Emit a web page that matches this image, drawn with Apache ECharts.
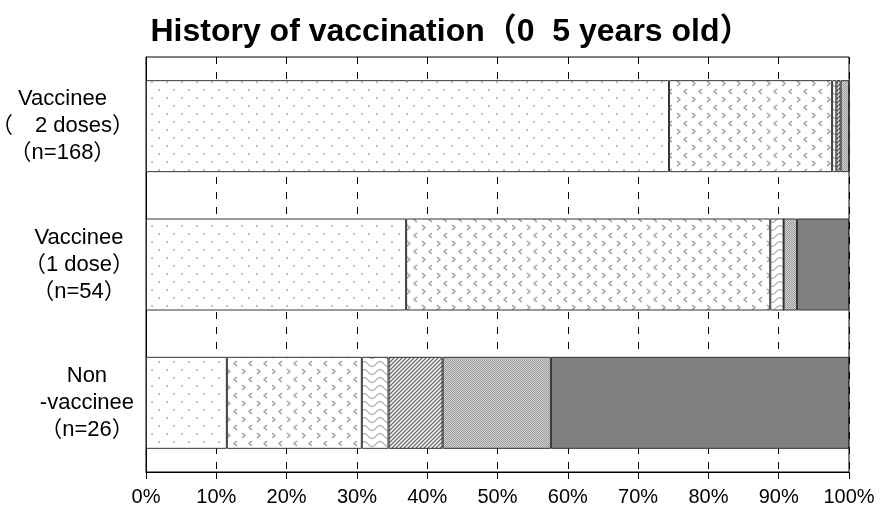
<!DOCTYPE html>
<html lang="en">
<head>
  <meta charset="UTF-8" />
  <title>History of vaccination</title>
  <style>
    body { margin: 0; background: #fff }
    #chart { width: 880px; height: 516px }
  </style>
  <script src="https://cdn.jsdelivr.net/npm/echarts@6/dist/echarts.min.js"></script>
</head>
<body>
  <div id="chart"></div>
  <script>
    // 数据
    const categories = [
      ['Vaccinee', '（　2 doses）', '（n=168）'],
      ['Vaccinee', '（1 dose）', '（n=54）'],
      ['Non', '-vaccinee', '（n=26）']
    ];
    const xTicks = [0, 10, 20, 30, 40, 50, 60, 70, 80, 90, 100];
    const seg1 = [74.4, 37.0, 11.5];
    const seg2 = [23.2, 51.8, 19.2];
    const seg3 = [0.6, 1.9, 3.8];
    const seg4 = [0.6, 0, 7.7];
    const seg5 = [1.2, 1.9, 15.4];
    const seg6 = [0, 7.4, 42.4];

    // 填充图案
    function pattern(w, h, draw) {
      const c = document.createElement('canvas');
      c.width = w; c.height = h;
      const ctx = c.getContext('2d');
      ctx.fillStyle = '#fff';
      ctx.fillRect(0, 0, w, h);
      draw(ctx);
      return { image: c, repeat: 'repeat' };
    }

    const dots = pattern(15, 16, ctx => {
      ctx.fillStyle = '#c2c2c2';
      ctx.fillRect(1, 1, 2, 2);
      ctx.fillRect(8, 9, 2, 2);
    });

    const chevrons = pattern(15, 16, ctx => {
      ctx.strokeStyle = '#9a9a9a';
      ctx.lineWidth = 1.3;
      ctx.beginPath();
      ctx.moveTo(2, 1); ctx.lineTo(5, 3.5); ctx.lineTo(2, 6);
      ctx.moveTo(12, 9); ctx.lineTo(9, 11.5); ctx.lineTo(12, 14);
      ctx.stroke();
    });

    const waves = pattern(16, 8, ctx => {
      ctx.strokeStyle = '#b0b0b0';
      ctx.lineWidth = 1.2;
      ctx.beginPath();
      for (let x = 0; x <= 16; x++) {
        const y = 4 + 2.5 * Math.sin(x / 16 * Math.PI * 2);
        if (x === 0) ctx.moveTo(x, y); else ctx.lineTo(x, y);
      }
      ctx.stroke();
    });

    const stripes = pattern(4, 4, ctx => {
      ctx.strokeStyle = '#6e6e6e';
      ctx.lineWidth = 1.4;
      ctx.beginPath();
      ctx.moveTo(0, 4); ctx.lineTo(4, 0);
      ctx.moveTo(-1, 1); ctx.lineTo(1, -1);
      ctx.moveTo(3, 5); ctx.lineTo(5, 3);
      ctx.stroke();
    });

    const checker = pattern(2, 2, ctx => {
      ctx.fillStyle = '#d2d2d2';
      ctx.fillRect(0, 0, 2, 2);
      ctx.fillStyle = '#9c9c9c';
      ctx.fillRect(0, 0, 1, 1);
      ctx.fillRect(1, 1, 1, 1);
    });

    const fills = [dots, chevrons, waves, stripes, checker, '#808080'];
    const segs = [seg1, seg2, seg3, seg4, seg5, seg6];

    const chart = echarts.init(document.getElementById('chart'));
    chart.setOption({
      backgroundColor: '#fff',
      animation: false,
      title: {
        text: 'History of vaccination（0  5 years old）',
        left: 446,
        top: 11,
        textAlign: 'center',
        textStyle: {
          fontFamily: '"Liberation Sans", Arial, "Noto Sans CJK JP", sans-serif',
          fontSize: 32,
          fontWeight: 'bold',
          color: '#000'
        }
      },
      grid: {
        left: 146,
        right: 31,
        top: 57,
        bottom: 44,
        containLabel: false,
        outerBoundsMode: 'none',
        show: true,
        borderColor: '#000',
        borderWidth: 1
      },
      xAxis: {
        type: 'value',
        min: 0,
        max: 100,
        interval: 10,
        axisLine: { show: true, lineStyle: { color: '#000', width: 1 } },
        axisTick: { show: true, length: 7, lineStyle: { color: '#000' } },
        splitLine: { show: true, lineStyle: { color: '#000', type: [7, 8], width: 1 } },
        axisLabel: {
          margin: 15,
          color: '#000',
          fontSize: 20,
          fontFamily: '"Liberation Sans", Arial, sans-serif',
          showMaxLabel: true,
          showMinLabel: true,
          hideOverlap: false,
          formatter: v => xTicks.includes(v) ? v + '%' : ''
        }
      },
      yAxis: {
        type: 'category',
        inverse: true,
        data: categories.map(c => c.join('\n')),
        axisLine: { show: true, lineStyle: { color: '#000' } },
        axisTick: { show: false },
        axisLabel: {
          align: 'right',
          margin: 12,
          color: '#000',
          formatter: v => v.split('\n').map(s => '{a|' + s + '}').join('\n'),
          rich: {
            a: {
              align: 'center',
              fontSize: 22,
              lineHeight: 27,
              color: '#000',
              fontFamily: '"Liberation Sans", Arial, "Noto Sans CJK JP", sans-serif'
            }
          }
        }
      },
      series: segs.map((d, i) => ({
        name: 'Segment ' + (i + 1),
        type: 'bar',
        stack: 'total',
        barWidth: 92,
        data: d,
        itemStyle: {
          color: fills[i],
          borderColor: '#333',
          borderWidth: 1
        }
      }))
    });
  </script>
</body>
</html>
